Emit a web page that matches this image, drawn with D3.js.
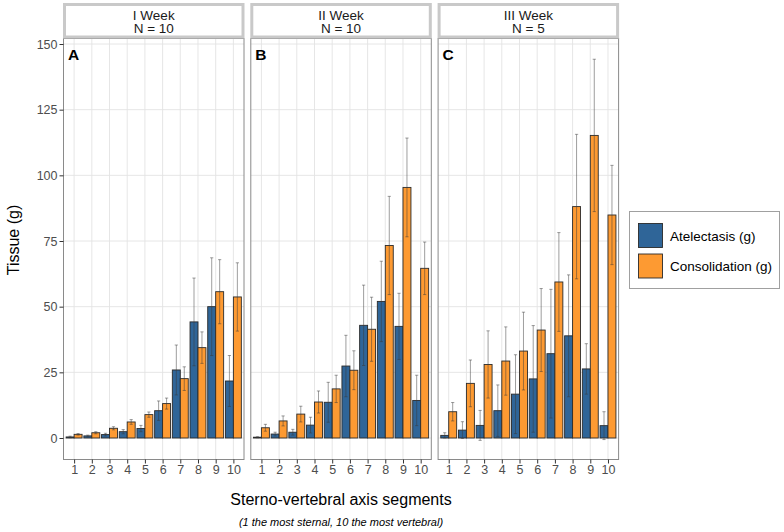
<!DOCTYPE html>
<html>
<head>
<meta charset="utf-8">
<script src="https://cdn.jsdelivr.net/npm/d3@7"></script>
<style>
  html, body { margin: 0; padding: 0; background: #fff; }
  svg { display: block; font-family: "Liberation Sans", Arial, sans-serif; }
</style>
</head>
<body>
<svg id="chart" width="784" height="532"></svg>
<script>
// ---- data ----
const categories = [1, 2, 3, 4, 5, 6, 7, 8, 9, 10];
const panelTitles = ["I Week", "II Week", "III Week"];
const panelN = ["N = 10", "N = 10", "N = 5"];
const panelLetters = ["A", "B", "C"];
const seriesNames = ["Atelectasis (g)", "Consolidation (g)"];
const yTicks = [0, 25, 50, 75, 100, 125, 150];

const atelA    = [0.4, 0.8, 1.3, 2.4, 3.6, 10.4, 25.9, 44.2, 50.0, 21.7];
const atelA_sd = [0.3, 0.3, 0.5, 0.8, 1.2, 3.7, 9.5, 16.7, 18.6, 9.7];
const consA    = [1.4, 2.0, 3.7, 6.1, 8.9, 13.1, 22.6, 34.4, 55.7, 53.7];
const consA_sd = [0.3, 0.4, 0.6, 0.9, 1.0, 2.1, 4.5, 6.0, 12.2, 13.0];

const atelB    = [0.3, 1.5, 2.2, 4.9, 13.6, 27.4, 42.9, 52.0, 42.5, 14.3];
const atelB_sd = [0.2, 0.7, 1.1, 3.0, 7.6, 11.7, 15.3, 15.3, 12.6, 9.6];
const consB    = [3.9, 6.5, 9.1, 13.7, 18.7, 25.8, 41.4, 73.3, 95.4, 64.6];
const consB_sd = [1.3, 1.9, 3.0, 4.2, 5.2, 7.4, 12.2, 18.7, 18.8, 10.0];

const atelC    = [1.0, 3.0, 4.8, 10.4, 16.7, 22.5, 32.1, 38.9, 26.3, 4.7];
const atelC_sd = [1.0, 3.2, 5.7, 9.8, 15.0, 20.3, 24.5, 23.2, 9.6, 5.3];
const consC    = [10.0, 20.8, 28.0, 29.3, 33.1, 41.1, 59.4, 88.1, 115.2, 84.9];
const consC_sd = [3.5, 8.9, 12.8, 13.0, 14.8, 15.8, 18.8, 27.5, 29.0, 18.9];

const panels = [
  { atel: atelA, atelSd: atelA_sd, cons: consA, consSd: consA_sd },
  { atel: atelB, atelSd: atelB_sd, cons: consB, consSd: consB_sd },
  { atel: atelC, atelSd: atelC_sd, cons: consC, consSd: consC_sd }
];

// ---- styling ----
const colors = ["#2f6598", "#fd9a32"];
const svg = d3.select("#chart");

const panelTop = 38.5, panelBottom = 459.5;
const panelW = 180.5, panelStep = 187.3, panelLeft0 = 63.5;
const y = d3.scaleLinear().domain([0, 150]).range([438, 44]);

panels.forEach((p, i) => {
  const x0 = panelLeft0 + i * panelStep;
  const x = d3.scalePoint().domain(categories).range([x0, x0 + panelW]).padding(0.6);
  const step = x.step();
  const bw = step * 0.45;
  const g = svg.append("g");

  // background
  g.append("rect").attr("x", x0).attr("y", panelTop).attr("width", panelW)
    .attr("height", panelBottom - panelTop).attr("fill", "#fff");

  // grid
  g.selectAll(".hg").data(yTicks).enter().append("line")
    .attr("x1", x0).attr("x2", x0 + panelW)
    .attr("y1", d => y(d)).attr("y2", d => y(d))
    .attr("stroke", "#e3e3e3").attr("stroke-width", 0.9);
  g.selectAll(".vg").data(categories).enter().append("line")
    .attr("x1", d => x(d)).attr("x2", d => x(d))
    .attr("y1", panelTop).attr("y2", panelBottom)
    .attr("stroke", "#e3e3e3").attr("stroke-width", 0.9);

  // bars
  const series = [
    { vals: p.atel, sd: p.atelSd, off: -bw, color: colors[0] },
    { vals: p.cons, sd: p.consSd, off: 0, color: colors[1] }
  ];
  series.forEach(s => {
    g.selectAll(null).data(categories).enter().append("rect")
      .attr("x", (d, k) => x(d) + s.off)
      .attr("width", bw)
      .attr("y", (d, k) => y(s.vals[k]))
      .attr("height", (d, k) => y(0) - y(s.vals[k]))
      .attr("fill", s.color)
      .attr("stroke", "#2b2b2b").attr("stroke-width", 0.9);
  });
  // error bars
  series.forEach(s => {
    const eb = g.selectAll(null).data(categories).enter().append("g")
      .attr("stroke", "#3a3a3a").attr("stroke-opacity", 0.55).attr("stroke-width", 0.9);
    const cx = d => x(d) + s.off + bw / 2;
    eb.append("line").attr("x1", cx).attr("x2", cx)
      .attr("y1", (d, k) => y(s.vals[k] + s.sd[k])).attr("y2", (d, k) => y(s.vals[k] - s.sd[k]));
    eb.append("line").attr("x1", d => cx(d) - 1.6).attr("x2", d => cx(d) + 1.6)
      .attr("y1", (d, k) => y(s.vals[k] + s.sd[k])).attr("y2", (d, k) => y(s.vals[k] + s.sd[k]));
    eb.append("line").attr("x1", d => cx(d) - 1.6).attr("x2", d => cx(d) + 1.6)
      .attr("y1", (d, k) => y(s.vals[k] - s.sd[k])).attr("y2", (d, k) => y(s.vals[k] - s.sd[k]));
  });

  // panel border
  g.append("rect").attr("x", x0).attr("y", panelTop).attr("width", panelW)
    .attr("height", panelBottom - panelTop).attr("fill", "none")
    .attr("stroke", "#8a8a8a").attr("stroke-width", 1);

  // panel letter
  g.append("text").attr("x", x0 + 4.5).attr("y", 60).text(panelLetters[i])
    .attr("font-size", 15.5).attr("font-weight", "bold").attr("fill", "#000");

  // strip
  g.append("rect").attr("x", x0 + 1).attr("y", 4.5).attr("width", panelW - 2).attr("height", 32.5)
    .attr("fill", "#fff").attr("stroke", "#c9c9c9").attr("stroke-width", 3);
  g.append("text").attr("x", x0 + panelW / 2).attr("y", 19.5).attr("text-anchor", "middle")
    .attr("font-size", 13.5).attr("fill", "#1a1a1a").text(panelTitles[i]);
  g.append("text").attr("x", x0 + panelW / 2).attr("y", 33).attr("text-anchor", "middle")
    .attr("font-size", 13.5).attr("fill", "#1a1a1a").text(panelN[i]);

  // x axis
  const xa = g.append("g").attr("transform", `translate(0,${panelBottom})`)
    .call(d3.axisBottom(x).tickSize(4).tickPadding(2));
  xa.select(".domain").remove();
  xa.selectAll(".tick line").attr("stroke", "#333");
  xa.selectAll(".tick text").attr("font-size", 12.5).attr("fill", "#4d4d4d")
    .attr("font-family", "Liberation Sans, Arial, sans-serif");

  if (i === 0) {
    const ya = g.append("g").attr("transform", `translate(${x0},0)`)
      .call(d3.axisLeft(y).tickValues(yTicks).tickSize(4).tickPadding(2));
    ya.select(".domain").remove();
    ya.selectAll(".tick line").attr("stroke", "#333");
    ya.selectAll(".tick text").attr("font-size", 12.5).attr("fill", "#4d4d4d")
      .attr("font-family", "Liberation Sans, Arial, sans-serif");
  }
});

// axis titles
svg.append("text").attr("transform", "translate(19,240) rotate(-90)")
  .attr("text-anchor", "middle").attr("font-size", 16).attr("fill", "#000").text("Tissue (g)");
svg.append("text").attr("x", 341).attr("y", 505).attr("text-anchor", "middle")
  .attr("font-size", 16).attr("fill", "#000").text("Sterno-vertebral axis segments");
svg.append("text").attr("x", 341).attr("y", 526).attr("text-anchor", "middle")
  .attr("font-size", 11).attr("font-style", "italic").attr("fill", "#000")
  .text("(1 the most sternal, 10 the most vertebral)");

// legend
const lg = svg.append("g");
lg.append("rect").attr("x", 629.5).attr("y", 211.5).attr("width", 150).attr("height", 77)
  .attr("fill", "#fff").attr("stroke", "#a0a0a0").attr("stroke-width", 1);
seriesNames.forEach((nm, k) => {
  lg.append("rect").attr("x", 638.5).attr("y", 223.5 + k * 30.5).attr("width", 24).attr("height", 24)
    .attr("fill", colors[k]).attr("stroke", "#2b2b2b").attr("stroke-width", 0.9);
  lg.append("text").attr("x", 670).attr("y", 240.5 + k * 30.5).attr("font-size", 13.5)
    .attr("fill", "#000").text(nm);
});
</script>
</body>
</html>
